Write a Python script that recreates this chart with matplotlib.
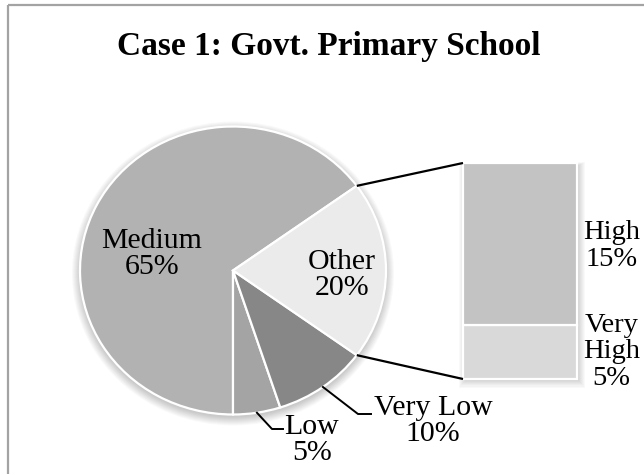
import matplotlib
matplotlib.use('Agg')
import matplotlib.pyplot as plt
from matplotlib.patches import Ellipse, Rectangle
import numpy as np

plt.rcParams['font.family'] = ['Liberation Serif', 'DejaVu Serif']

title = "Case 1: Govt. Primary School"
pie_labels = ["Medium", "Low", "Very Low", "Other"]
pie_values = [65, 5, 10, 20]
pie_colors = ["#b2b2b2", "#a4a4a4", "#878787", "#ebebeb"]
bar_labels = ["Very\nHigh", "High"]
bar_values = [5, 15]
bar_colors = ["#d9d9d9", "#c3c3c3"]

W, H = 644, 474
fig = plt.figure(figsize=(W / 100, H / 100), dpi=100)
fig.patch.set_facecolor('white')


def px_axes(x0, y0, w, h, z):
    ax = fig.add_axes([x0 / W, 1 - (y0 + h) / H, w / W, h / H], zorder=z)
    ax.patch.set_alpha(0)
    return ax


# background overlay (border, shadows)
bg = px_axes(0, 0, W, H, 0)
bg.set_xlim(0, W)
bg.set_ylim(H, 0)
bg.axis('off')
bg.add_patch(Rectangle((8.5, 4.5), 700, 600, fill=False, edgecolor='#a3a3a3', linewidth=1.6))

# pie geometry (layout)
cx, cy, rx, ry = 233, 270.5, 153, 144
start = 36

for k in range(9):
    bg.add_patch(Ellipse((cx, cy + 3), 2 * (rx + k), 2 * (ry + k), color='black', alpha=0.022, lw=0))

pie_ax = px_axes(cx - rx, cy - ry, 2 * rx, 2 * ry, 1)
wedges, _ = pie_ax.pie(pie_values, colors=pie_colors, startangle=start, counterclock=True,
                       wedgeprops=dict(edgecolor='white', linewidth=1.6))
for w in wedges:
    w.set_clip_on(False)
pie_ax.set_aspect('auto')
pie_ax.set_xlim(-1, 1)
pie_ax.set_ylim(-1, 1)
pie_ax.axis('off')

# bar geometry (layout)
bx, by, bw, bh = 463, 163, 114, 216
for k in range(7):
    bg.add_patch(Rectangle((bx + 2 - k, by + 2 - k * 0.5), bw + 2 * k, bh + 2 * k * 0.8,
                           color='black', alpha=0.025, lw=0))

bar_ax = px_axes(bx, by, bw, bh, 1)
bottom = 0
for v, c in zip(bar_values, bar_colors):
    b = bar_ax.bar(0, v, bottom=bottom, width=1, color=c, edgecolor='white', linewidth=1.6)
    for p in b:
        p.set_clip_on(False)
    bottom += v
bar_ax.set_xlim(-0.5, 0.5)
bar_ax.set_ylim(0, sum(bar_values))
bar_ax.axis('off')

# top overlay (lines, text)
ov = px_axes(0, 0, W, H, 3)
ov.set_xlim(0, W)
ov.set_ylim(H, 0)
ov.axis('off')

total = sum(pie_values)
angles = start + 360 * np.cumsum([0] + pie_values) / total


def edge(a):
    t = np.deg2rad(a)
    return cx + rx * np.cos(t), cy - ry * np.sin(t)


# connectors from "Other" slice to bar
a_other_start, a_other_end = angles[3], angles[4]
p1 = edge(a_other_end)
p2 = edge(a_other_start)
ov.plot([p1[0], bx], [p1[1], by], color='black', lw=1.6, solid_capstyle='butt')
ov.plot([p2[0], bx], [p2[1], by + bh], color='black', lw=1.6, solid_capstyle='butt')

# leader lines
mid_low = (angles[1] + angles[2]) / 2
mid_vlow = (angles[2] + angles[3]) / 2
pl = edge(mid_low)
pv = edge(mid_vlow)
ov.plot([pl[0], 272, 283], [pl[1], 429, 429], color='black', lw=1.4)
ov.plot([pv[0], 358, 371], [pv[1], 414, 414], color='black', lw=1.4)

fs = 21.5
ls = 1.02
ov.text(329, 55, title, ha='center', va='baseline', fontsize=24, fontweight='bold')


def pct(v):
    return f"{v}%"


ov.text(152, 254, f"{pie_labels[0]}\n{pct(pie_values[0])}", ha='center', va='center',
        fontsize=fs, multialignment='center', linespacing=ls)
ov.text(342, 275, f"{pie_labels[3]}\n{pct(pie_values[3])}", ha='center', va='center',
        fontsize=fs, multialignment='center', linespacing=ls)
ov.text(312, 440, f"{pie_labels[1]}\n{pct(pie_values[1])}", ha='center', va='center',
        fontsize=fs, multialignment='center', linespacing=ls)
ov.text(433, 421, f"{pie_labels[2]}\n{pct(pie_values[2])}", ha='center', va='center',
        fontsize=fs, multialignment='center', linespacing=ls)
ov.text(583, 246, f"{bar_labels[1]}\n{pct(bar_values[1])}", ha='left', va='center',
        fontsize=20.5, multialignment='center', linespacing=1.06)
ov.text(583, 352, f"{bar_labels[0]}\n{pct(bar_values[0])}", ha='left', va='center',
        fontsize=20.5, multialignment='center', linespacing=1.06)

fig.savefig('out.png', dpi=100, facecolor='white')
